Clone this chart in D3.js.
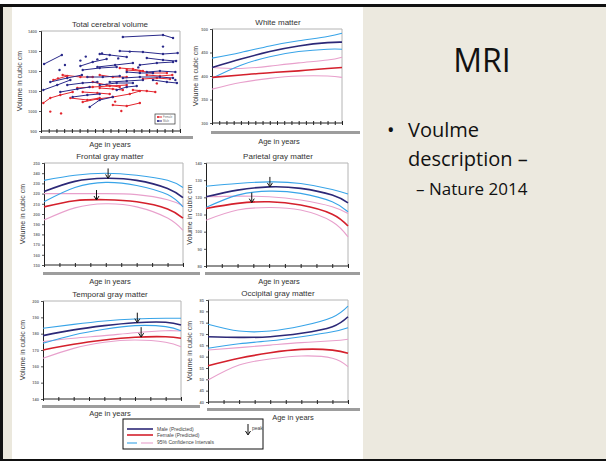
<!DOCTYPE html>
<html>
<head>
<meta charset="utf-8">
<script src="https://cdn.jsdelivr.net/npm/d3@7"></script>
<style>
  body { margin: 0; background: #fff; }
  text { font-family: "Liberation Sans", Arial, sans-serif; }
  .slide text { font-family: "Open Sans", "Noto Sans", sans-serif; }
</style>
</head>
<body>
<svg id="mainsvg" width="606" height="461"></svg>
<script>
// ---- data ----
const ages = [4, 8, 12, 16, 20, 22];

// total cerebral volume, longitudinal subjects: [age, cubic cm]
const maleSubjects = [
  [[14.6,1370],[19.8,1380],[21.1,1365]],
  [[4.4,1235],[6.7,1280]],
  [[14.2,1300],[17.2,1295],[19.8,1285],[21.7,1290]],
  [[11.6,1285],[12.9,1280],[15.1,1270]],
  [[17.7,1265],[19.8,1255],[21.5,1250]],
  [[9.1,1225],[10.7,1245],[12.5,1260]],
  [[11.3,1220],[13.6,1230],[15.9,1240]],
  [[4.3,1105],[6.1,1130],[7.8,1155]],
  [[5.2,1145],[7.4,1165],[9.3,1180]],
  [[9.4,1205],[11.6,1215],[13.8,1220]],
  [[16.8,1230],[19.0,1240],[21.1,1245]],
  [[10.0,1170],[12.0,1170],[14.2,1175]],
  [[14.6,1165],[16.8,1170],[19.4,1170],[21.1,1165]],
  [[7.4,1130],[9.4,1140],[11.3,1145]],
  [[12.9,1145],[15.1,1150],[17.2,1155]],
  [[6.5,1095],[8.7,1110],[10.3,1120]],
  [[11.6,1130],[13.8,1140],[15.9,1140]],
  [[8.1,1070],[10.0,1080],[11.6,1085]],
  [[17.7,1195],[19.4,1200],[21.4,1195]],
  [[15.1,1195],[16.8,1190],[18.5,1190]],
  [[10.3,1020],[11.6,1055],[13.3,1070]],
  [[13.8,1105],[15.1,1120],[16.4,1125]],
  [[18.5,1155],[20.3,1145],[21.6,1140]]
];
const malePoints = [[11.3,1258],[11.9,1288],[14.0,1263],[7.1,1230],[6.4,1205],[16.6,1218],
  [19.8,1322],[21.4,1155],[9.8,1272],[9.1,1252],[15.5,1297]];
const femaleSubjects = [
  [[4.3,1040],[5.2,1065],[6.5,1080],[8.1,1095]],
  [[6.8,1180],[9.1,1170],[10.7,1170]],
  [[8.7,1115],[10.7,1120],[12.9,1125],[15.1,1130]],
  [[7.8,1065],[10.0,1055],[11.6,1065]],
  [[9.4,1045],[11.3,1060],[13.3,1070],[15.5,1085],[16.8,1100]],
  [[13.3,1030],[15.1,1025],[16.8,1040]],
  [[15.9,1105],[17.7,1100],[18.8,1095]],
  [[15.1,1205],[16.8,1200],[18.5,1190],[20.3,1190]],
  [[17.7,1180],[19.4,1175],[21.0,1180]],
  [[11.6,1180],[13.3,1170],[15.1,1170]],
  [[10.7,1145],[12.5,1130],[14.2,1120]],
  [[5.6,1155],[7.4,1175]],
  [[9.4,1095],[11.3,1090],[12.9,1085]],
  [[14.2,1215],[15.9,1210],[17.2,1200]],
  [[17.2,1160],[19.0,1165],[20.7,1160]],
  [[11.6,1115],[13.3,1110],[14.6,1105]]
];
const femalePoints = [[5.2,997],[6.6,988],[14.4,1000],[6.2,1163],[13.6,1047],[19.0,1138]];

// white matter
const wmMaleHi   = [438, 450, 464, 475, 484, 491];
const wmMale     = [418, 436, 452, 464, 471, 472];
const wmMaleLo   = [395, 423, 441, 452, 457, 457];
const wmFemaleHi = [418, 416, 421, 428, 434, 440];
const wmFemale   = [397, 402, 407, 411, 416, 418];
const wmFemaleLo = [372, 386, 395, 400, 400, 397];

// frontal gray matter
const fgMaleHi   = [233, 238, 240, 238, 233, 226];
const fgMale     = [222, 232, 235, 233, 225, 216];
const fgMaleLo   = [212, 226, 231, 228, 219, 207];
const fgFemaleHi = [220, 220, 220, 219, 214, 208];
const fgFemale   = [207, 213, 214, 212, 205, 196];
const fgFemaleLo = [194, 206, 210, 207, 196, 184];

// parietal gray matter
const pgMaleHi   = [126.5, 128.1, 129.0, 128.1, 124.6, 121.9];
const pgMale     = [120.3, 124.2, 126.1, 125.2, 121.3, 116.8];
const pgMaleLo   = [114.1, 121.3, 123.6, 122.3, 117.4, 111.6];
const pgFemaleHi = [120.3, 120.7, 120.3, 118.4, 114.5, 110.6];
const pgFemale   = [113.5, 116.5, 117.4, 115.5, 110.2, 103.3];
const pgFemaleLo = [106.7, 112.6, 114.1, 112.6, 105.8, 97.0];

// temporal gray matter
const tgMaleHi   = [183.3, 185.7, 187.8, 189.0, 189.4, 189.4];
const tgMale     = [178.8, 182.3, 184.9, 186.7, 187.0, 185.3];
const tgMaleLo   = [174.1, 179.2, 182.7, 184.9, 184.3, 181.8];
const tgFemaleHi = [175.1, 177.2, 178.8, 180.6, 181.8, 181.6];
const tgFemale   = [170.0, 173.5, 176.1, 177.8, 178.1, 177.2];
const tgFemaleLo = [164.9, 171.0, 174.7, 176.1, 174.7, 172.0];

// occipital gray matter
const ogMaleHi   = [74.3, 71.3, 71.3, 73.5, 77.4, 82.3];
const ogMale     = [68.8, 68.5, 68.8, 70.3, 73.2, 77.6];
const ogMaleLo   = [63.7, 65.7, 67.0, 68.8, 71.0, 72.8];
const ogFemaleHi = [62.9, 64.0, 65.1, 66.2, 67.0, 67.7];
const ogFemale   = [56.0, 59.3, 61.7, 63.2, 62.9, 61.5];
const ogFemaleLo = [49.7, 56.3, 59.0, 60.3, 59.3, 55.6];

// peak ages [male, female]
const frontalPeaks  = [12.3, 10.8];
const parietalPeaks = [12.1, 9.8];
const temporalPeaks = [16.3, 16.8];

// y tick labels
const tcvTicks = [900, 1000, 1100, 1200, 1300, 1400];
const wmTicks  = [300, 350, 400, 450, 500];
const fgTicks  = d3.range(150, 251, 10);
const pgTicks  = d3.range(80, 141, 10);
const tgTicks  = d3.range(140, 201, 10);
const ogTicks  = d3.range(40, 86, 5);

const legendLabels = ["Male (Predicted)", "Female (Predicted)", "95% Confidence Intervals"];

// ---- drawing ----
const svg = d3.select('#mainsvg');
const colors = {navy: '#2c2877', red: '#d4202c', blue: '#38a4e8', pink: '#e8a0cc',
                dotBlue: '#2a2a8a', dotRed: '#e3262e'};

// slide background
svg.append('rect').attr('width', 606).attr('height', 461).attr('fill', '#fff');
svg.append('rect').attr('x', 3).attr('y', 7).attr('width', 9).attr('height', 452).attr('fill', '#ebe8dd');
svg.append('rect').attr('x', 363).attr('y', 7).attr('width', 243).attr('height', 452).attr('fill', '#ece9df');
svg.append('rect').attr('x', 0).attr('y', 4).attr('width', 606).attr('height', 3).attr('fill', '#111');
svg.append('rect').attr('x', 0).attr('y', 4).attr('width', 3).attr('height', 457).attr('fill', '#111');
svg.append('rect').attr('x', 0).attr('y', 459).attr('width', 606).attr('height', 2).attr('fill', '#111');

function lerp(xs, ys, x) {
  const i = Math.max(1, d3.bisectLeft(xs, x));
  const t = (x - xs[i-1]) / (xs[i] - xs[i-1]);
  return ys[i-1] + t * (ys[i] - ys[i-1]);
}

function drawFrame(cfg) {
  const g = svg.append('g');
  const x = d3.scaleLinear().domain([4, 22]).range([cfg.left, cfg.right]);
  const y = d3.scaleLinear().domain(d3.extent(cfg.yTicks)).range([cfg.bottom, cfg.top]);

  g.append('text').attr('x', cfg.titleX).attr('y', cfg.top - 4.5)
    .attr('text-anchor', 'middle').attr('font-size', 8).attr('fill', '#333').text(cfg.title);

  // light frame
  g.append('path')
    .attr('d', `M${cfg.left},${cfg.top}H${cfg.right}V${cfg.bottom}`)
    .attr('fill', 'none').attr('stroke', '#b4b4b4').attr('stroke-width', 1);

  // y axis with small blurry labels
  const ya = g.append('g').attr('transform', `translate(${cfg.left},0)`)
    .call(d3.axisLeft(y).tickValues(cfg.yTicks).tickSize(2).tickPadding(2).tickFormat(d3.format('d')));
  ya.select('.domain').attr('stroke', '#222');
  ya.selectAll('text').attr('font-size', 4).attr('font-weight', 'bold').attr('fill', '#777');
  ya.selectAll('line').attr('stroke', '#555');

  // x ticks crossing the axis
  const xa = g.append('g').attr('transform', `translate(0,${cfg.bottom - 2})`)
    .call(d3.axisBottom(x).tickValues(d3.range(4, 22.1, cfg.xStep)).tickSize(4).tickFormat(''));
  xa.select('.domain').remove();
  xa.selectAll('line').attr('stroke', '#222');
  g.append('line').attr('x1', cfg.left).attr('x2', cfg.right)
    .attr('y1', cfg.bottom).attr('y2', cfg.bottom).attr('stroke', '#222');

  // gray bar and axis titles
  g.append('rect').attr('x', cfg.left - 1).attr('y', cfg.barY).attr('width', cfg.barEnd - cfg.left + 1)
    .attr('height', 3).attr('fill', '#9d9d9d');
  g.append('text').attr('x', cfg.ageX).attr('y', cfg.barY + cfg.ageDy)
    .attr('text-anchor', 'middle').attr('font-size', 7.5).attr('fill', '#333').text('Age in years');
  g.append('text')
    .attr('transform', `translate(${cfg.left - cfg.yLabelOff},${(cfg.top + cfg.bottom) / 2}) rotate(-90)`)
    .attr('text-anchor', 'middle').attr('font-size', 7).attr('fill', '#333').text('Volume in cubic cm');

  return {g, x, y};
}

function drawCurves(cfg) {
  const {g, x, y} = drawFrame(cfg);
  const line = d3.line().x((d, i) => x(ages[i])).y(d => y(d)).curve(d3.curveNatural);
  const series = [
    [cfg.s[3], colors.pink, 1.1], [cfg.s[5], colors.pink, 1.1],
    [cfg.s[0], colors.blue, 1.1], [cfg.s[2], colors.blue, 1.1],
    [cfg.s[4], colors.red, 1.6], [cfg.s[1], colors.navy, 1.6]
  ];
  g.selectAll('.curve').data(series).join('path')
    .attr('d', d => line(d[0]))
    .attr('fill', 'none').attr('stroke', d => d[1]).attr('stroke-width', d => d[2]);

  if (cfg.peaks) {
    [[cfg.peaks[0], cfg.s[1]], [cfg.peaks[1], cfg.s[4]]].forEach(([age, vals]) => {
      const px = x(age), py = y(lerp(ages, vals, age));
      drawArrow(g, px, py - 10, py);
    });
  }
}

function drawArrow(g, px, y0, y1) {
  g.append('line').attr('x1', px).attr('x2', px).attr('y1', y0).attr('y2', y1 - 1)
    .attr('stroke', '#111').attr('stroke-width', 1);
  g.append('path').attr('d', `M${px - 2.5},${y1 - 4}L${px},${y1}L${px + 2.5},${y1 - 4}`)
    .attr('fill', 'none').attr('stroke', '#111').attr('stroke-width', 1);
}

// Total cerebral volume
{
  const cfg = {title: 'Total cerebral volume', left: 41, right: 180, top: 31, bottom: 131, titleX: 110,
    yTicks: tcvTicks, xStep: 1, barY: 136, barEnd: 193, ageX: 110, ageDy: 10.5, yLabelOff: 19};
  const {g, x, y} = drawFrame(cfg);
  const line = d3.line().x(d => x(d[0])).y(d => y(d[1]));
  const groups = [[femaleSubjects, femalePoints, colors.dotRed], [maleSubjects, malePoints, colors.dotBlue]];
  groups.forEach(([subs, pts, col]) => {
    g.append('g').selectAll('path').data(subs).join('path')
      .attr('d', line).attr('fill', 'none').attr('stroke', col).attr('stroke-width', 1);
    g.append('g').selectAll('circle').data(subs.flat().concat(pts)).join('circle')
      .attr('cx', d => x(d[0])).attr('cy', d => y(d[1])).attr('r', 1.2).attr('fill', col);
  });
  // tiny inset legend
  const lg = g.append('g');
  lg.append('rect').attr('x', 155).attr('y', 114).attr('width', 20).attr('height', 10)
    .attr('fill', '#fff').attr('stroke', '#333').attr('stroke-width', 0.7);
  [['Female', colors.dotRed, 117], ['Male', colors.dotBlue, 121]].forEach(([t, c, yy]) => {
    lg.append('line').attr('x1', 157).attr('x2', 162).attr('y1', yy).attr('y2', yy).attr('stroke', c);
    lg.append('circle').attr('cx', 158).attr('cy', yy).attr('r', 1).attr('fill', c);
    lg.append('text').attr('x', 163).attr('y', yy + 1).attr('font-size', 2.8).attr('fill', '#777').text(t);
  });
}

drawCurves({title: 'White matter', left: 212, right: 342, top: 29, bottom: 123, titleX: 278,
  yTicks: wmTicks, xStep: 1, barY: 131, barEnd: 360, ageX: 279, ageDy: 13, yLabelOff: 14,
  s: [wmMaleHi, wmMale, wmMaleLo, wmFemaleHi, wmFemale, wmFemaleLo]});

drawCurves({title: 'Frontal gray matter', left: 44, right: 183, top: 163, bottom: 265, titleX: 110,
  yTicks: fgTicks, xStep: 2, barY: 272, barEnd: 200, ageX: 110, ageDy: 12, yLabelOff: 19,
  s: [fgMaleHi, fgMale, fgMaleLo, fgFemaleHi, fgFemale, fgFemaleLo], peaks: frontalPeaks});

drawCurves({title: 'Parietal gray matter', left: 206, right: 348, top: 163, bottom: 266, titleX: 278,
  yTicks: pgTicks, xStep: 2, barY: 272, barEnd: 360, ageX: 279, ageDy: 12, yLabelOff: 14,
  s: [pgMaleHi, pgMale, pgMaleLo, pgFemaleHi, pgFemale, pgFemaleLo], peaks: parietalPeaks});

drawCurves({title: 'Temporal gray matter', left: 43, right: 181, top: 301, bottom: 399, titleX: 110,
  yTicks: tgTicks, xStep: 2, barY: 405, barEnd: 200, ageX: 110, ageDy: 10.5, yLabelOff: 18,
  s: [tgMaleHi, tgMale, tgMaleLo, tgFemaleHi, tgFemale, tgFemaleLo], peaks: temporalPeaks});

drawCurves({title: 'Occipital gray matter', left: 208, right: 348, top: 300, bottom: 402, titleX: 278,
  yTicks: ogTicks, xStep: 2, barY: 408, barEnd: 360, ageX: 293, ageDy: 12, yLabelOff: 16,
  s: [ogMaleHi, ogMale, ogMaleLo, ogFemaleHi, ogFemale, ogFemaleLo]});

// bottom legend
{
  const lg = svg.append('g');
  lg.append('rect').attr('x', 123).attr('y', 419).attr('width', 140).attr('height', 30)
    .attr('fill', '#fff').attr('stroke', '#111').attr('stroke-width', 1);
  const rows = [429, 435, 442];
  lg.append('line').attr('x1', 127).attr('x2', 153).attr('y1', rows[0]).attr('y2', rows[0])
    .attr('stroke', colors.navy).attr('stroke-width', 1.6);
  lg.append('line').attr('x1', 127).attr('x2', 153).attr('y1', rows[1]).attr('y2', rows[1])
    .attr('stroke', colors.red).attr('stroke-width', 1.6);
  lg.append('line').attr('x1', 127).attr('x2', 137).attr('y1', rows[2] + 1).attr('y2', rows[2] + 1)
    .attr('stroke', colors.blue).attr('stroke-width', 1.1);
  lg.append('line').attr('x1', 141).attr('x2', 153).attr('y1', rows[2] + 1).attr('y2', rows[2] + 1)
    .attr('stroke', colors.pink).attr('stroke-width', 1.1);
  lg.selectAll('.lt').data(legendLabels).join('text')
    .attr('x', 157).attr('y', (d, i) => rows[i] + 1.8).attr('font-size', 5).attr('fill', '#444').text(d => d);
  drawArrow(lg, 248, 424, 435);
  lg.append('text').attr('x', 252).attr('y', 430).attr('font-size', 5).attr('fill', '#444').text('peak');
}

// slide text
{
  const st = svg.append('g').attr('class', 'slide');
  st.append('text').attr('x', 482).attr('y', 72).attr('text-anchor', 'middle')
    .attr('font-size', 32).attr('fill', '#111').text('MRI');
  st.append('text').attr('x', 387).attr('y', 137).attr('font-size', 20).attr('fill', '#111').text('•');
  st.append('text').attr('x', 408).attr('y', 137).attr('font-size', 20).attr('fill', '#111').text('Voulme');
  st.append('text').attr('x', 408).attr('y', 166).attr('font-size', 20).attr('fill', '#111').text('description –');
  st.append('text').attr('x', 416).attr('y', 195).attr('font-size', 17).attr('fill', '#111').text('– Nature 2014');
}
</script>
</body>
</html>
